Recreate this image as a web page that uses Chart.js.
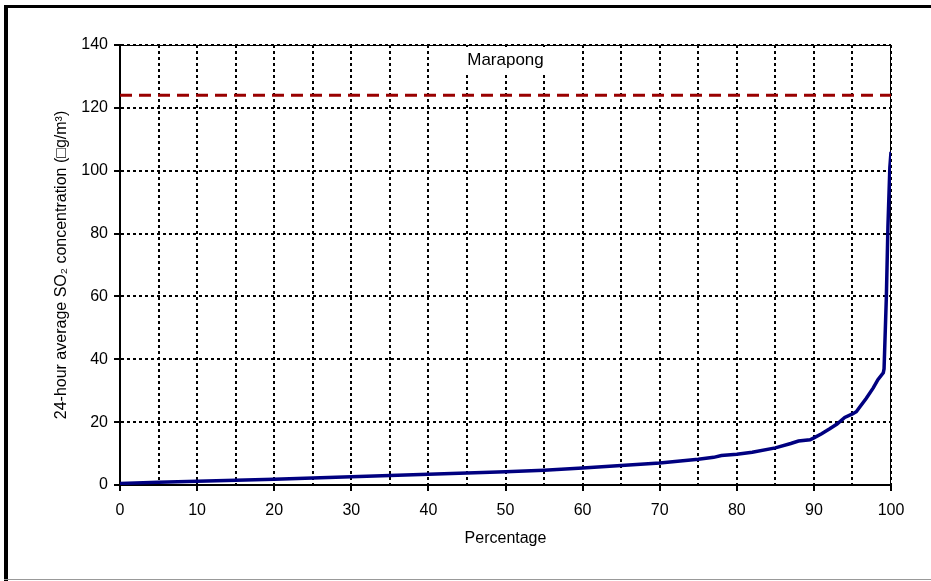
<!DOCTYPE html>
<html>
<head>
<meta charset="utf-8">
<script src="https://cdn.jsdelivr.net/npm/chart.js@4"></script>
<style>
  html, body { margin: 0; padding: 0; background: #fff; }
  #wrap { width: 931px; height: 581px; position: relative; }
</style>
</head>
<body>
<div id="wrap"><canvas id="chart" width="931" height="581"></canvas></div>
<script>
'use strict';

// data
const percentages = [0, 5, 10, 15, 20, 25, 30, 35, 40, 45, 50, 55, 60, 65, 70, 75, 77, 78, 80, 82, 85, 87, 88, 89.5, 90, 91, 92, 93, 94, 95, 95.5, 96, 96.8, 97.7, 98.3, 99, 99.1, 99.4, 99.6, 99.85, 100];
const concentrations = [0.5, 0.9, 1.2, 1.5, 1.8, 2.2, 2.6, 3.0, 3.4, 3.8, 4.2, 4.7, 5.4, 6.2, 7.0, 8.2, 8.8, 9.4, 9.8, 10.4, 11.8, 13.2, 14.0, 14.4, 15.0, 16.3, 17.8, 19.4, 21.5, 22.6, 23.3, 25.0, 27.6, 30.9, 33.5, 35.7, 37, 60, 82, 101, 106];
const limitValue = 124;
const limitRange = [0, 100];

const siteName = 'Marapong';
const xTitle = 'Percentage';
const yTitle = '24-hour average SO\u2082 concentration (\u25A1g/m\u00B3)';

const FONT = 'Liberation Sans, Arial, sans-serif';

let seriesPoints = [];
for (let i = 0; i < percentages.length; i++) {
  seriesPoints.push({ x: percentages[i], y: concentrations[i] });
}
let limitPoints = limitRange.map(p => ({ x: p, y: limitValue }));

// frame round the picture and the site label
const decorPlugin = {
  id: 'decor',
  beforeDraw(chart) {
    const ctx = chart.ctx;
    const a = chart.chartArea;
    ctx.save();
    ctx.fillStyle = '#fff';
    ctx.fillRect(0, 0, chart.width, chart.height);
    // outer frame
    ctx.fillStyle = '#000';
    ctx.fillRect(4, 5, 4, 576);
    ctx.fillRect(4, 5, 927, 3);
    ctx.fillStyle = '#999';
    ctx.fillRect(4, 579, 927, 1);
    // plot box
    ctx.strokeStyle = '#000';
    ctx.lineWidth = 1;
    ctx.strokeRect(a.left, a.top + 0.5, a.right - a.left - 0.5, a.bottom - a.top);
    ctx.restore();
  },
  afterDatasetsDraw(chart) {
    const ctx = chart.ctx;
    const a = chart.chartArea;
    const cx = (a.left + a.right) / 2;
    ctx.save();
    ctx.fillStyle = '#fff';
    ctx.fillRect(cx - 67, a.top + 2, 134, 27);
    ctx.fillStyle = '#000';
    ctx.font = '17px ' + FONT;
    ctx.textAlign = 'center';
    ctx.textBaseline = 'middle';
    ctx.fillText(siteName, cx, a.top + 15);
    ctx.restore();
  }
};

const ctx = document.getElementById('chart').getContext('2d');

let myChart = new Chart(ctx, {
  type: 'scatter',
  data: {
    datasets: [{
      label: 'limit',
      data: limitPoints,
      showLine: true,
      borderColor: '#990000',
      borderWidth: 3,
      borderDash: [12, 7],
      pointRadius: 0,
      clip: false
    },
    {
      label: siteName,
      data: seriesPoints,
      showLine: true,
      borderColor: '#000080',
      borderWidth: 3.5,
      pointRadius: 0,
      tension: 0
    }]
  },
  options: {
    responsive: false,
    animation: false,
    layout: { padding: { top: 45, right: 40, left: 48, bottom: 29 } },
    plugins: {
      legend: { display: false },
      tooltip: { enabled: false }
    },
    scales: {
      x: {
        type: 'linear',
        min: 0,
        max: 100,
        ticks: {
          stepSize: 5,
          autoSkip: false,
          maxRotation: 0,
          color: '#000',
          font: { family: FONT, size: 16 },
          padding: 10,
          callback: v => (v % 10 === 0 ? String(v) : '')
        },
        grid: {
          color: '#000',
          lineWidth: 2,
          tickLength: 6,
          tickWidth: 2,
          tickColor: c => (c.tick && c.tick.value % 10 === 0 ? '#000' : 'rgba(0,0,0,0)'),
          drawOnChartArea: true
        },
        border: { display: true, color: '#000', width: 2, dash: [3, 3] },
        title: {
          display: true,
          text: xTitle,
          color: '#000',
          font: { family: FONT, size: 16 },
          padding: 4
        },
        afterFit: s => { s.height = 67; }
      },
      y: {
        min: 0,
        max: 140,
        ticks: {
          stepSize: 20,
          color: '#000',
          font: { family: FONT, size: 16 },
          padding: 6
        },
        grid: {
          color: '#000',
          lineWidth: 2,
          tickLength: 6,
          tickWidth: 2,
          tickColor: '#000'
        },
        border: { display: true, color: '#000', width: 2, dash: [3, 3] },
        title: {
          display: true,
          text: yTitle,
          color: '#000',
          font: { family: FONT, size: 16 },
          padding: 4
        },
        afterFit: s => { s.width = 72; }
      }
    }
  },
  plugins: [decorPlugin]
});
</script>
</body>
</html>
